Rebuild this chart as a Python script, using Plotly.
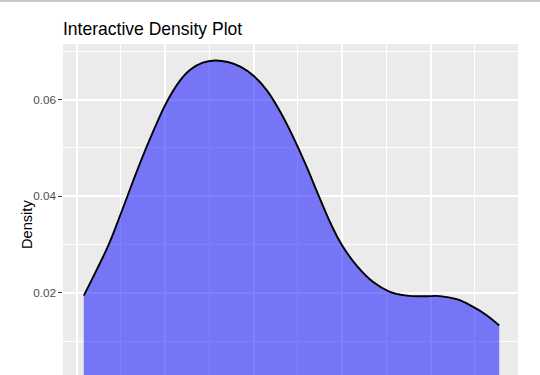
import plotly.graph_objects as go

# Density curve (x = mpg, y = density)
mpg = [10.396, 11.103, 11.810, 12.319, 12.856, 13.394, 13.920, 14.525, 15.147,
       15.826, 16.448, 17.127, 17.805, 18.541, 19.276, 20.011, 20.747, 21.482,
       22.217, 22.952, 23.688, 24.423, 24.989, 25.837, 26.742, 27.704, 28.648,
       29.587, 30.532, 31.476, 32.415, 33.173, 33.886]
density = [0.019442, 0.024607, 0.030031, 0.034742, 0.039938, 0.045145, 0.049948,
           0.055145, 0.059917, 0.063884, 0.066271, 0.067634, 0.068099, 0.067777,
           0.066756, 0.064876, 0.061921, 0.057624, 0.052386, 0.046477, 0.040031,
           0.033843, 0.029897, 0.025599, 0.022293, 0.020227, 0.019442, 0.019298,
           0.019339, 0.018698, 0.017107, 0.015393, 0.013244]

x_ticks = [10, 15, 20, 25, 30, 35]
x_minor = [12.5, 17.5, 22.5, 27.5, 32.5]
y_ticks = [0.00, 0.02, 0.04, 0.06]
y_tick_labels = ["0.00", "0.02", "0.04", "0.06"]
y_minor = [0.01, 0.03, 0.05, 0.07]

W, H = 540, 451
ML, MR, MT, MB = 63, 20, 43.5, 45
PW, PH = W - ML - MR, H - MT - MB

fig = go.Figure()
fig.add_trace(go.Scatter(
    x=mpg, y=density, mode="lines",
    line=dict(color="black", width=1.89, shape="spline", smoothing=1.2),
    fill="tozeroy", fillcolor="rgba(0,0,255,0.5)",
    hoverinfo="x+y", showlegend=False,
))

xmin, xmax = min(mpg), max(mpg)
xr = xmax - xmin
ymax = max(density)

axis_common = dict(
    showgrid=True, gridcolor="white", gridwidth=1.89,
    zeroline=False, showline=False, automargin=False,
    ticks="outside", ticklen=3.65, tickwidth=1.07, tickcolor="rgba(51,51,51,1)",
    tickfont=dict(family="Liberation Sans, Arial, sans-serif", size=11.69, color="rgba(77,77,77,1)"),
)

fig.update_layout(
    width=W, height=H,
    margin=dict(l=ML, r=MR, t=MT, b=MB),
    paper_bgcolor="white", plot_bgcolor="rgb(235,235,235)",
    font=dict(family="Liberation Sans, Arial, sans-serif", color="black"),
    title=dict(text="Interactive Density Plot", x=ML / W, xanchor="left",
               xref="container", yref="container", y=1 - 28.5 / H, yanchor="middle",
               font=dict(size=17.53, color="black")),
    xaxis=dict(range=[xmin - 0.05 * xr, xmax + 0.05 * xr],
               tickvals=x_ticks, ticktext=[str(v) for v in x_ticks],
               minor=dict(tickvals=x_minor, showgrid=True,
                          gridcolor="white", gridwidth=0.95, ticks=""),
               title=dict(text="mpg", font=dict(size=14.61)),
               **axis_common),
    yaxis=dict(range=[-0.05 * ymax, 1.05 * ymax],
               tickvals=y_ticks, ticktext=y_tick_labels,
               minor=dict(tickvals=y_minor, showgrid=True,
                          gridcolor="white", gridwidth=0.95, ticks=""),
               **axis_common),
    annotations=[dict(text="Density", textangle=-90, showarrow=False,
                      xref="paper", yref="paper", x=(27 - ML) / PW, y=0.5,
                      xanchor="center", yanchor="middle",
                      font=dict(size=14.61, color="black"))],
    shapes=[dict(type="line", xref="paper", yref="paper",
                 x0=-ML / PW, x1=1 + MR / PW,
                 y0=1 + (MT - 0.5) / PH, y1=1 + (MT - 0.5) / PH,
                 line=dict(color="rgb(180,180,180)", width=1.5))],
)

fig.write_html("out.html", config={"displayModeBar": False},
               post_script="document.body.style.margin='0px';document.body.style.overflow='hidden';")
